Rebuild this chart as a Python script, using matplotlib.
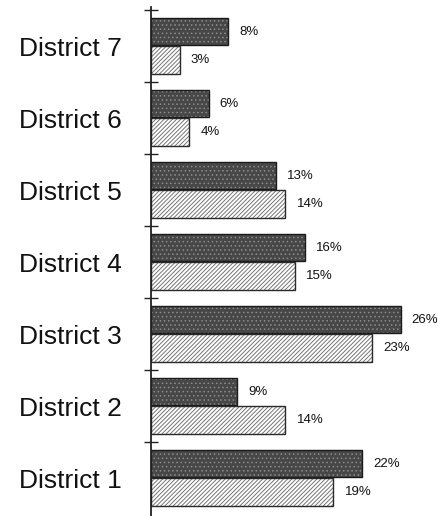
import matplotlib
matplotlib.use("Agg")
import matplotlib.pyplot as plt
import numpy as np

districts = ["District 1", "District 2", "District 3", "District 4",
             "District 5", "District 6", "District 7"]
series_dark = [22, 9, 26, 16, 13, 6, 8]
series_light = [19, 14, 23, 15, 14, 4, 3]

plt.rcParams['font.family'] = ['Liberation Sans', 'DejaVu Sans']

W, H = 438, 516
fig = plt.figure(figsize=(W / 100, H / 100), dpi=100)
ax = fig.add_axes([151 / W, 0, 287 / W, 509 / H])

y = np.arange(len(districts))
bh = 0.385

# dark speckled bars
with plt.rc_context({'hatch.color': '#8c8c8c', 'hatch.linewidth': 0.6}):
    ax.barh(y + 0.2, series_dark, height=bh, color='#474747', hatch='....',
            linewidth=0)
ax.barh(y + 0.2, series_dark, height=bh, fill=False, edgecolor='#1a1a1a',
        linewidth=1.0)

# light hatched bars
with plt.rc_context({'hatch.color': '#757575', 'hatch.linewidth': 0.7}):
    ax.barh(y - 0.19, series_light, height=bh, color='white', hatch='////////',
            linewidth=0)
ax.barh(y - 0.19, series_light, height=bh, fill=False, edgecolor='#2a2a2a',
        linewidth=1.0)

for yi, v in zip(y, series_dark):
    ax.annotate(f"{v}%", xy=(v, yi + 0.2), xytext=(8, 0),
                textcoords='offset points', va='center', ha='left',
                fontsize=9.5, color='#111111')
for yi, v in zip(y, series_light):
    ax.annotate(f"{v}%", xy=(v, yi - 0.19), xytext=(8, 0),
                textcoords='offset points', va='center', ha='left',
                fontsize=9.5, color='#111111')

ax.set_xlim(0, 287 / 9.6)
top = 6.5 + 3 / 72
ax.set_ylim(top - 509 / 72, top)

ax.set_yticks(y)
ax.set_yticklabels(districts, fontsize=19, color='#111111')
ax.tick_params(axis='y', which='major', length=0, pad=21)
ax.set_yticks(np.arange(1, len(districts) + 1) - 0.5, minor=True)
ax.tick_params(axis='y', which='minor', direction='inout', length=10,
               width=1.0, color='#222222')
ax.set_xticks([])

for s in ['top', 'right', 'bottom']:
    ax.spines[s].set_visible(False)
ax.spines['left'].set_linewidth(1.3)
ax.spines['left'].set_color('#222222')

fig.savefig("out.png", dpi=100)
